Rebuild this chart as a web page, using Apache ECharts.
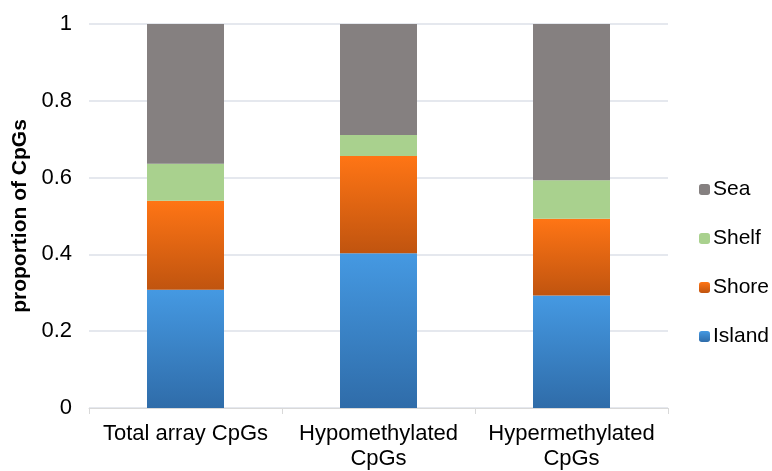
<!DOCTYPE html>
<html><head><meta charset="utf-8">
<script src="https://cdn.jsdelivr.net/npm/echarts@6/dist/echarts.min.js"></script>
<style>html,body{margin:0;padding:0;background:#fff}#c{width:772px;height:471px}</style>
</head><body><div id="c"></div>
<script>
const categories = ['Total array CpGs', 'Hypomethylated\nCpGs', 'Hypermethylated\nCpGs'];
const island = [0.308, 0.403, 0.293];
const shore = [0.232, 0.253, 0.200];
const shelf = [0.096, 0.055, 0.100];
const sea = [0.364, 0.289, 0.407];
const yTicks = [0, 0.2, 0.4, 0.6, 0.8, 1];

function grad(top, bottom) {
  return new echarts.graphic.LinearGradient(0, 0, 0, 1, [{offset: 0, color: top}, {offset: 1, color: bottom}]);
}
const font = 'Liberation Sans, Arial, sans-serif';
const chart = echarts.init(document.getElementById('c'), null, {renderer: 'canvas'});
const barW = 77;
chart.setOption({
  animation: false,
  textStyle: {fontFamily: font},
  grid: {left: 89, right: 104, top: 24, bottom: 60},
  legend: {
    orient: 'vertical', left: 694, top: 174,
    itemWidth: 11, itemHeight: 11, itemGap: 28,
    data: ['Sea', 'Shelf', 'Shore', 'Island'],
    textStyle: {fontSize: 21, color: '#000', fontFamily: font, padding: [0,0,0,-2]}
  },
  xAxis: {
    type: 'category', data: categories,
    axisLine: {lineStyle: {color: '#d9d9d9'}},
    axisTick: {show: true, length: 6, lineStyle: {color: '#d9d9d9'}},
    axisLabel: {interval: 0, hideOverlap: false, fontSize: 22, color: '#000', lineHeight: 25, margin: 13, fontFamily: font}
  },
  yAxis: {
    type: 'value', min: 0, max: 1, interval: 0.2,
    name: 'proportion of CpGs', nameLocation: 'middle', nameGap: 51,
    nameTextStyle: {fontSize: 21, fontWeight: 'bold', color: '#000', fontFamily: font},
    axisLabel: {fontSize: 22, color: '#000', margin: 17, fontFamily: font,
      formatter: v => { const t = yTicks.find(x => Math.abs(x - v) < 1e-9); return t === undefined ? '' : String(t); }},
    splitLine: {lineStyle: {color: '#dde1e8', width: 1.5}},
    axisLine: {show: false}, axisTick: {show: false}
  },
  series: [
    {name: 'Island', type: 'bar', stack: 's', barWidth: barW, data: island,
     itemStyle: {color: grad('#4599e2', '#2f6ca9')}},
    {name: 'Shore', type: 'bar', stack: 's', barWidth: barW, data: shore,
     itemStyle: {color: grad('#ff7515', '#c0540f')}},
    {name: 'Shelf', type: 'bar', stack: 's', barWidth: barW, data: shelf,
     itemStyle: {color: '#a9d18e'}},
    {name: 'Sea', type: 'bar', stack: 's', barWidth: barW, data: sea,
     itemStyle: {color: '#858080'}}
  ]
});
</script></body></html>
